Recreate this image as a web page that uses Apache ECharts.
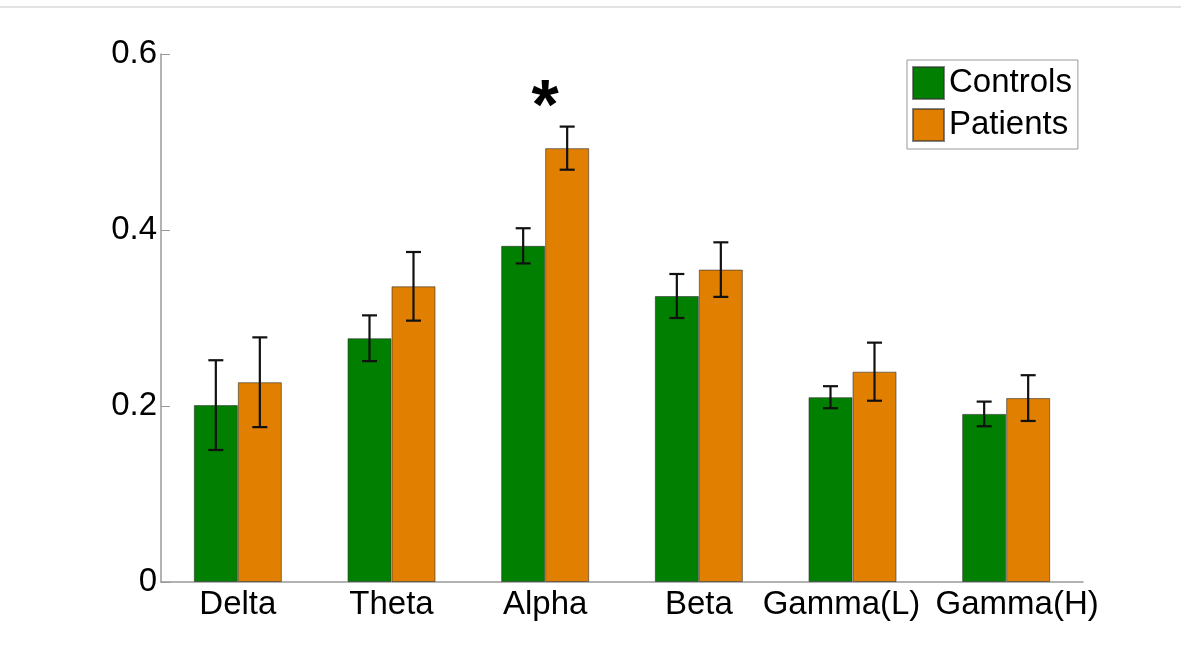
<!DOCTYPE html>
<html>
<head>
<meta charset="utf-8">
<script src="https://cdn.jsdelivr.net/npm/echarts@6/dist/echarts.min.js"></script>
<style>
  html, body { margin: 0; padding: 0; background: #fff; }
  #chart { width: 1181px; height: 647px; }
</style>
</head>
<body>
<div id="chart"></div>
<script>
// ---- Data ----
var categories = ['Delta', 'Theta', 'Alpha', 'Beta', 'Gamma(L)', 'Gamma(H)'];
var controls = [0.201, 0.277, 0.382, 0.325, 0.210, 0.191];
var controlsErr = [0.051, 0.026, 0.020, 0.025, 0.0125, 0.014];
var patients = [0.227, 0.336, 0.493, 0.355, 0.239, 0.209];
var patientsErr = [0.051, 0.039, 0.0245, 0.031, 0.033, 0.026];
var sigCategories = ['Alpha'];
var sigMarkY = [0.537];
var yTicks = [0, 0.2, 0.4, 0.6];

// ---- Style ----
var FONT = '"Liberation Sans", Arial, Helvetica, sans-serif';
var GREEN = '#007f00';
var ORANGE = '#e07f00';
var BAR_W = 44;

function errData(vals, errs) {
  return vals.map(function (v, i) { return [i, v - errs[i], v + errs[i]]; });
}

function errRender(offset) {
  return function (params, api) {
    var i = api.value(0);
    var lo = api.coord([i, api.value(1)]);
    var hi = api.coord([i, api.value(2)]);
    var x = lo[0] + offset;
    var cap = 7.5;
    var st = { stroke: '#111', lineWidth: 2.2 };
    return {
      type: 'group',
      children: [
        { type: 'line', shape: { x1: x, y1: lo[1], x2: x, y2: hi[1] }, style: st },
        { type: 'line', shape: { x1: x - cap, y1: lo[1], x2: x + cap, y2: lo[1] }, style: st },
        { type: 'line', shape: { x1: x - cap, y1: hi[1], x2: x + cap, y2: hi[1] }, style: st }
      ]
    };
  };
}

var chart = echarts.init(document.getElementById('chart'));
chart.setOption({
  animation: false,
  backgroundColor: '#fff',
  grid: { left: 161, right: 98, top: 54, bottom: 65, containLabel: false },
  graphic: [{
    type: 'line',
    shape: { x1: 0, y1: 7, x2: 1181, y2: 7 },
    style: { stroke: '#d9d9d9', lineWidth: 1.5 }
  }],
  legend: {
    orient: 'vertical',
    left: 907,
    top: 60,
    padding: [6, 6, 7, 5],
    borderColor: '#999',
    borderWidth: 1,
    itemWidth: 31,
    itemHeight: 32,
    itemGap: 8,
    icon: 'rect',
    textStyle: { fontFamily: FONT, fontSize: 33, color: '#000', lineHeight: 32 },
    data: ['Controls', 'Patients']
  },
  xAxis: {
    type: 'category',
    data: categories,
    axisLine: { lineStyle: { color: '#999', width: 1.5 } },
    axisTick: { show: false },
    axisLabel: {
      interval: 0,
      hideOverlap: false,
      fontFamily: FONT, fontSize: 33, color: '#000', margin: 6,
      formatter: function (v) {
        if (v === 'Gamma(L)') return '{l|' + v + '}';
        if (v === 'Gamma(H)') return '{r|' + v + '}';
        return v;
      },
      rich: {
        l: { fontFamily: FONT, fontSize: 33, color: '#000', padding: [0, 22, 0, 0] },
        r: { fontFamily: FONT, fontSize: 33, color: '#000', padding: [0, 0, 0, 22] }
      }
    },
    splitLine: { show: false }
  },
  yAxis: {
    type: 'value',
    min: yTicks[0],
    max: yTicks[yTicks.length - 1],
    interval: 0.2,
    axisLine: { show: true, lineStyle: { color: '#999', width: 1.5 } },
    axisTick: { show: true, inside: true, length: 9, lineStyle: { color: '#999', width: 1 } },
    axisLabel: {
      fontFamily: FONT, fontSize: 33, color: '#000', margin: 4,
      formatter: function (v) { return v === 0 ? '0' : String(Math.round(v * 10) / 10); }
    },
    splitLine: { show: false }
  },
  series: [
    {
      name: 'Controls',
      type: 'bar',
      data: controls,
      barWidth: BAR_W,
      barGap: '0%',
      itemStyle: { color: GREEN, borderColor: 'rgba(50,50,50,0.6)', borderWidth: 1 }
    },
    {
      name: 'Patients',
      type: 'bar',
      data: patients,
      barWidth: BAR_W,
      barGap: '0%',
      itemStyle: { color: ORANGE, borderColor: 'rgba(50,50,50,0.6)', borderWidth: 1 }
    },
    {
      type: 'custom',
      name: 'ControlsErr',
      renderItem: errRender(-BAR_W / 2),
      data: errData(controls, controlsErr),
      z: 10,
      silent: true
    },
    {
      type: 'custom',
      name: 'PatientsErr',
      renderItem: errRender(BAR_W / 2),
      data: errData(patients, patientsErr),
      z: 10,
      silent: true
    },
    {
      type: 'custom',
      name: 'Sig',
      silent: true,
      z: 11,
      data: sigCategories.map(function (c, k) { return [categories.indexOf(c), sigMarkY[k]]; }),
      renderItem: function (params, api) {
        var p = api.coord([api.value(0), api.value(1)]);
        return {
          type: 'text',
          x: p[0],
          y: p[1],
          style: {
            text: '*',
            fontFamily: FONT,
            fontSize: 70,
            fontWeight: 'bold',
            fill: '#000',
            align: 'center',
            verticalAlign: 'middle'
          }
        };
      }
    }
  ]
});
</script>
</body>
</html>
